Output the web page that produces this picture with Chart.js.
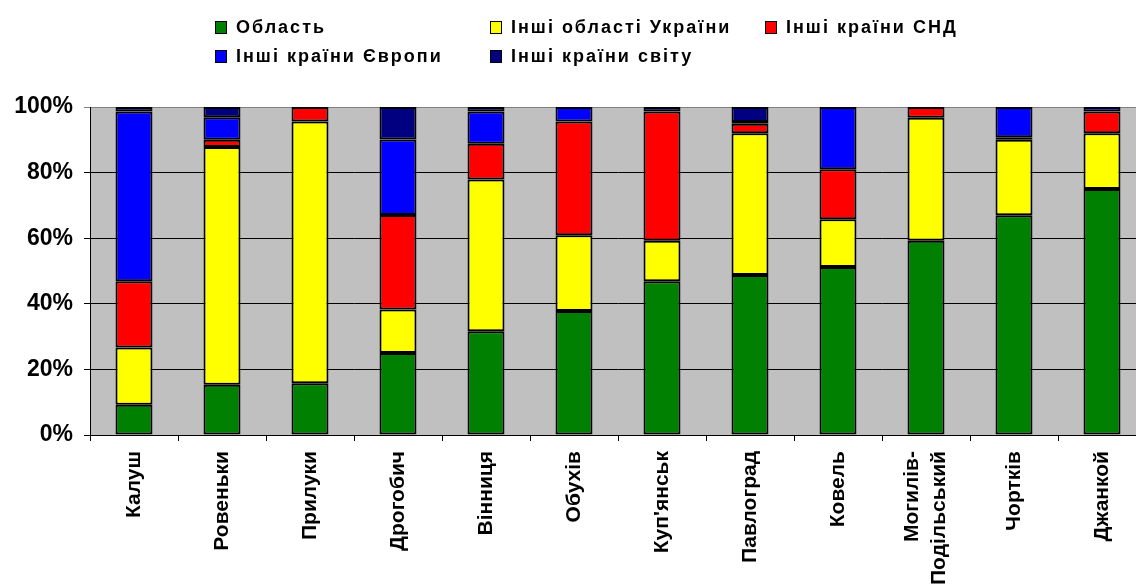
<!DOCTYPE html>
<html>
<head>
<meta charset="utf-8">
<script src="https://cdn.jsdelivr.net/npm/chart.js@4.4.1/dist/chart.umd.min.js"></script>
<style>
  html, body { margin: 0; padding: 0; background: #fff; overflow: hidden; width: 1136px; height: 587px; }
  #wrap { position: relative; width: 1136px; height: 587px; }
  #myChart { position: absolute; left: 0; top: 0; }
  #legend { position: absolute; left: 215px; top: 16px; display: grid; grid-template-columns: 275px 275px 275px; row-gap: 7px;
            font-family: "Liberation Sans", Arial, sans-serif; font-weight: bold; font-size: 18px; letter-spacing: 2px; color: #000; }
  #legend .item { display: flex; align-items: center; white-space: nowrap; height: 22px; }
  #legend .box { display: inline-block; width: 10px; height: 11px; border: 1px solid #000; margin-right: 9px; }
</style>
</head>
<body>
<div id="wrap">
  <canvas id="myChart" width="1146" height="587"></canvas>
  <div id="legend"></div>
</div>
<script>
const categories = ['Калуш', 'Ровеньки', 'Прилуки', 'Дрогобич', 'Вінниця', 'Обухів', "Куп'янськ",
                    'Павлоград', 'Ковель', ['Могилів-', 'Подільський'], 'Чортків', 'Джанкой'];
const seriesNames = ['Область', 'Інші області України', 'Інші країни СНД', 'Інші країни Європи', 'Інші країни світу'];
const oblast       = [9.2, 15.3, 15.8, 25.0, 31.6, 37.8, 46.9, 48.8, 51.2, 59.2, 67.0, 75.0];
const otherRegions = [17.5, 72.5, 79.8, 13.3, 46.3, 23.1, 12.3, 43.2, 14.6, 37.5, 23.0, 17.0];
const cis          = [20.2, 2.2, 4.4, 28.8, 10.9, 34.7, 39.4, 2.9, 15.2, 3.3, 0.8, 6.6];
const europe       = [51.7, 6.9, 0, 23.0, 9.8, 4.4, 0, 0.5, 19.0, 0, 9.2, 1.4];
const world        = [1.4, 3.1, 0, 9.9, 1.4, 0, 1.4, 4.6, 0, 0, 0, 0];
const yTicks = [0, 20, 40, 60, 80, 100];

const colors = ['#008000', '#FFFF00', '#FF0000', '#0000FF', '#000080'];
const values = [oblast, otherRegions, cis, europe, world];

const data = {
  labels: categories,
  datasets: seriesNames.map((name, i) => ({
    label: name,
    data: values[i],
    backgroundColor: colors[i],
    borderColor: '#000',
    borderWidth: 2,
    borderSkipped: false,
    barPercentage: 0.42,
    categoryPercentage: 1.0
  }))
};

// grey plot area + centre the two-line category label
const plotBg = {
  id: 'plotBg',
  beforeDraw(chart) {
    const a = chart.chartArea, c = chart.ctx;
    c.save();
    c.fillStyle = '#C0C0C0';
    c.fillRect(a.left, a.top, a.right - a.left, a.bottom - a.top);
    c.restore();

    const xs = chart.scales.x;
    if (!xs._patched) {
      const orig = xs._computeLabelItems;
      xs._computeLabelItems = function (area) {
        const items = orig.call(this, area);
        items.forEach(it => {
          if (Array.isArray(it.label)) it.textOffset -= (it.label.length - 1) * it.font.lineHeight / 2;
        });
        return items;
      };
      xs._labelItems = null;
      xs._patched = true;
    }
  }
};

const font = '"Liberation Sans", Arial, sans-serif';

const config = {
  type: 'bar',
  data: data,
  options: {
    responsive: false,
    animation: false,
    layout: { padding: { top: 107, left: 0, right: 0, bottom: 0 } },
    plugins: { legend: { display: false }, tooltip: { enabled: false } },
    scales: {
      x: {
        stacked: true,
        grid: { display: true, drawOnChartArea: false, drawTicks: true, tickLength: 6, color: '#000', offset: true },
        border: { color: '#000', width: 1 },
        ticks: { color: '#000', minRotation: 90, maxRotation: 90, autoSkip: false, padding: 10,
                 font: { family: font, weight: 'bold', size: 21, lineHeight: 1.3 } },
        afterFit: s => { s.height = 152; }
      },
      y: {
        stacked: true,
        min: 0, max: 100,
        afterBuildTicks: s => { s.ticks = yTicks.map(v => ({ value: v })); },
        grid: { color: c => (c.tick && c.tick.value === 100 ? '#808080' : '#000'), lineWidth: 1, tickLength: 6 },
        border: { color: '#000', width: 1 },
        ticks: { color: '#000', padding: 11, callback: v => v + '%',
                 font: { family: font, weight: 'bold', size: 23 } },
        afterFit: s => { s.width = 90; }
      }
    }
  },
  plugins: [plotBg]
};

const ctx = document.getElementById('myChart').getContext('2d');
const myChart = new Chart(ctx, config);

// legend in a grid like the original
const legend = document.getElementById('legend');
seriesNames.forEach((name, i) => {
  const item = document.createElement('div');
  item.className = 'item';
  item.innerHTML = '<span class="box" style="background:' + colors[i] + '"></span>' + name;
  legend.appendChild(item);
});
</script>
</body>
</html>
